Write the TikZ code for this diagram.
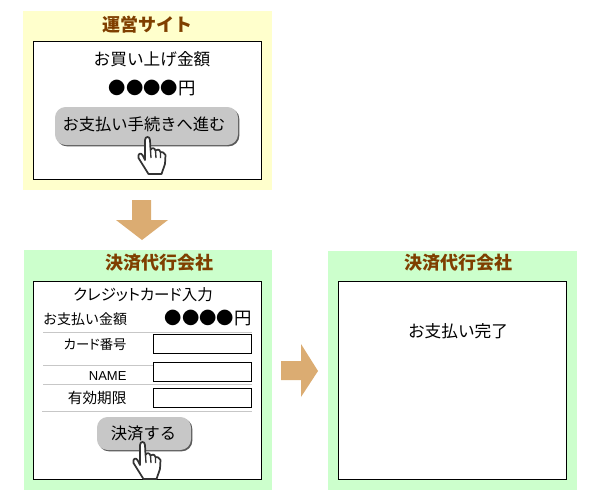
\documentclass[tikz,border=0pt]{standalone}
\usepackage{fontspec}
\newfontfamily\cjk{Noto Sans CJK JP}
\newfontfamily\cjkp[RawFeature=+palt]{Noto Sans CJK JP}
\setsansfont{Liberation Sans}
\usetikzlibrary{shadows}

\definecolor{paleyellow}{HTML}{FFFFCC}
\definecolor{palegreen}{HTML}{CCFFCC}
\definecolor{titlebrown}{HTML}{7F3F00}
\definecolor{wood}{HTML}{DBAC72}

\tikzset{every picture/.style={line width=0.75pt}}
\tikzset{
  title/.style={text=titlebrown,font=\cjk\bfseries\fontsize{13.5}{13.5}\selectfont,inner sep=0pt},
  big/.style={font=\cjk\fontsize{12.5}{12.5}\selectfont,inner sep=0pt},
  btn/.style={font=\cjk\fontsize{12.2}{12.2}\selectfont,inner sep=0pt},
  small/.style={font=\cjk\fontsize{10.5}{10.5}\selectfont,inner sep=0pt},
  price/.style={font=\cjk\fontsize{13}{13}\selectfont,inner sep=0pt},
  button/.style={draw=none,fill=black!22,rounded corners=8pt,inner sep=0pt,
    drop shadow={shadow xshift=1pt,shadow yshift=-1pt,fill=black!65,opacity=1}},
  inputbox/.style={draw,fill=white},
  rule/.style={draw=black!22},
  hand/.pic={
    \begin{scope}[yscale=-1]
    \draw [fill=white,draw=black!80,line width=1.3pt,line join=round]
      (-2.5,3) .. controls (-2.5,-1) and (2.5,-1) .. (2.5,3) -- (3,13)
      .. controls (4,10.5) and (7,10.5) .. (8,13.5)
      .. controls (9,12) and (12,12) .. (13,15)
      .. controls (14,15) and (17,15) .. (18,18)
      -- (17.5,27) -- (14,37) -- (1,37) -- (-4,29) -- (-9,21)
      .. controls (-10,17) and (-7,15) .. (-5,18) -- (-2.5,23) -- cycle ;
    \draw [draw=black!80,line width=1pt] (3,13) -- (3.5,21) (8,13.5) -- (8.5,21) (13,15) -- (13,21) ;
    \end{scope}
  }
}

\begin{document}
\begin{tikzpicture}[x=0.75pt,y=0.75pt,yscale=-1,xscale=1]

\useasboundingbox (0,0) rectangle (600,500);

% panels
\fill [paleyellow] (23,11) rectangle (272,190);
\fill [palegreen] (24,250) rectangle (272,490);
\fill [palegreen] (328,251) rectangle (577,490);
\draw [fill=white] (33,41) rectangle (261.5,179);
\draw [fill=white] (33,281) rectangle (261.5,479);
\draw [fill=white] (338,281) rectangle (566.5,479);

\node [title] (siteTitle) at (147,25) {運営サイト};
\node [title] (agentTitleA) at (159,263) {決済代行会社};
\node [title] (agentTitleB) at (458,263) {決済代行会社};

% arrows
\fill [wood] (132,200) -- (151,200) -- (151,220) -- (168,220) -- (142,240) -- (116,220) -- (132,220) -- cycle ;
\fill [wood] (281,361) -- (301,361) -- (301,344) -- (318,371) -- (301,397) -- (301,380) -- (281,380) -- cycle ;

% site
\node [big] (totalLabel) at (152,59) {お買い上げ金額};
\node [price] (totalPrice) at (152,88) {●●●●円};
\node [button,minimum width=137.25pt,minimum height=28.5pt] (payButton) at (146.5,126) {};
\node [btn] (payLabel) at (144,124) {お支払い手続きへ進む};
\pic at (147.5,137) {hand};

% card form
\node [inner sep=0pt,font=\cjkp\fontsize{11.6}{11.6}\selectfont] (formTitle) at (143,295) {クレジットカード入力};
\node [small] (amountLabel) at (85,319) {お支払い金額};
\node [price] (amountPrice) at (208,318) {●●●●円};
\draw [rule] (43,332.5) -- (252,332.5) ;
\draw [rule] (43,365) -- (252,365) ;
\draw [rule] (43,384) -- (252,384) ;
\draw [rule] (42,411) -- (252,411) ;
\node [anchor=east,inner sep=0pt,font=\cjkp\fontsize{10}{10}\selectfont] (cardLabel) at (127,345) {カード番号};
\node [anchor=east,inner sep=0pt,font=\sffamily\fontsize{9.75}{9.75}\selectfont] (nameLabel) at (127,376) {NAME};
\node [anchor=east,inner sep=0pt,font=\cjk\fontsize{11}{11}\selectfont] (limitLabel) at (127,398) {有効期限};
\draw [inputbox] (153,334) rectangle (251,353.5);
\draw [inputbox] (153,362) rectangle (251,381);
\draw [inputbox] (153,388) rectangle (251,407);
\node [button,minimum width=70.5pt,minimum height=24.75pt] (settleButton) at (144,433.5) {};
\node [btn] (settleLabel) at (143.5,433) {決済する};
\pic at (142.5,442) {hand};

% done
\node [big] (doneLabel) at (458,331) {お支払い完了};

\end{tikzpicture}
\end{document}
